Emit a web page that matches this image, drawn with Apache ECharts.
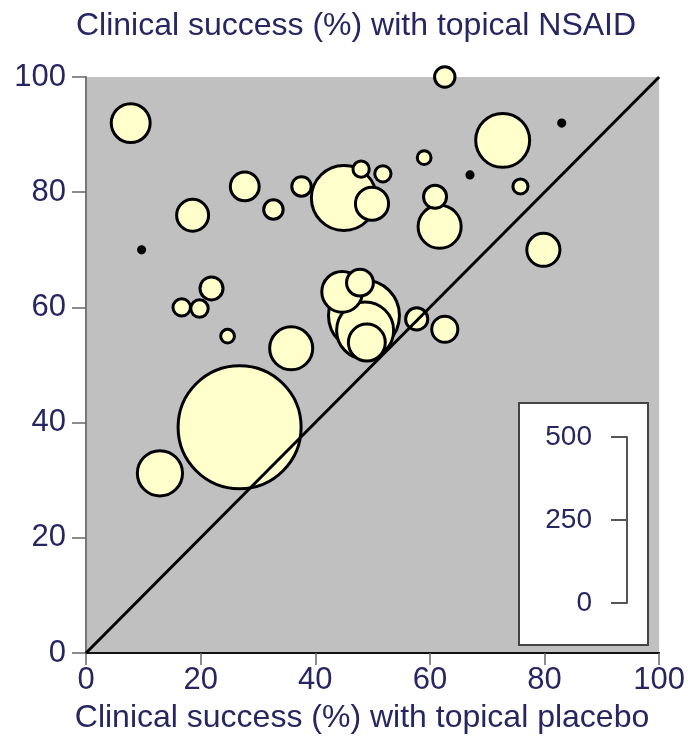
<!DOCTYPE html>
<html>
<head>
<meta charset="utf-8">
<script src="https://cdn.jsdelivr.net/npm/echarts@6/dist/echarts.min.js"></script>
<style>html,body{margin:0;padding:0;background:#fff;}#c{width:688px;height:740px;}</style>
</head>
<body>
<div id="c"></div>
<script>
// Clinical success (%) with topical placebo (x) and topical NSAID (y); trial size
const placebo = [7.8, 62.6, 72.7, 83, 9.7, 18.6, 27.7, 32.7, 37.6, 45, 48, 51.8, 49.9, 59, 67, 60.9, 61.7, 75.8, 79.8, 16.7, 19.8, 21.9, 24.7, 35.8, 44.7, 47.8, 48.5, 48.7, 49, 57.7, 62.6, 26.8, 12.9];
const nsaid   = [92, 100, 89, 92, 70, 76, 81, 77, 81, 79, 84, 83.2, 78, 86, 83, 79.2, 74, 81, 70, 60, 59.8, 63.3, 55, 52.9, 62.7, 64.3, 58.6, 56, 53.9, 58, 56.2, 39.2, 31.2];
const trialSize = [40, 11, 77, 1, 1, 27, 22, 10, 10, 112, 7, 7, 29, 5, 1, 14, 49, 6, 29, 8, 8, 14, 5, 49, 44, 19, 133, 86, 36, 13, 18, 400, 54];
const axisTicks = [0, 20, 40, 60, 80, 100];
const sizeScaleTicks = [0, 250, 500];
const titleTop = 'Clinical success (%) with topical NSAID';
const titleBottom = 'Clinical success (%) with topical placebo';

const NAVY = '#262660';
const FONT = '"Liberation Sans", Arial, sans-serif';

const pts = placebo.map((x, i) => [x, nsaid[i], trialSize[i]]);
pts.sort((a, b) => b[2] - a[2]);

const chart = echarts.init(document.getElementById('c'));
chart.setOption({
  animation: false,
  grid: [
    { left: 86, right: 27, top: 77, bottom: 87, show: true, backgroundColor: '#c0c0c0', borderWidth: 0 },
    { left: 627, top: 437, height: 166, width: 10, show: false }
  ],
  xAxis: [
    { type: 'value', gridIndex: 0, min: axisTicks[0], max: axisTicks[axisTicks.length - 1], interval: 20,
      axisLine: { show: true, onZero: false, lineStyle: { color: '#111', width: 2 } },
      axisTick: { show: true, length: 12, lineStyle: { color: '#666', width: 1.5 } },
      axisLabel: { fontSize: 31, color: NAVY, fontFamily: FONT, margin: 12 },
      splitLine: { show: false } },
    { type: 'value', gridIndex: 1, show: false, min: 0, max: 1 }
  ],
  yAxis: [
    { type: 'value', gridIndex: 0, min: axisTicks[0], max: axisTicks[axisTicks.length - 1], interval: 20,
      axisLine: { show: true, onZero: false, lineStyle: { color: '#777', width: 2 } },
      axisTick: { show: true, length: 14, lineStyle: { color: '#666', width: 1.5 } },
      axisLabel: { fontSize: 31, color: NAVY, fontFamily: FONT, margin: 20 },
      splitLine: { show: false } },
    { type: 'value', gridIndex: 1, position: 'left', min: sizeScaleTicks[0], max: sizeScaleTicks[2], interval: 250, z: 10,
      axisLine: { show: true, onZero: false, lineStyle: { color: '#555', width: 2 } },
      axisTick: { show: true, length: 16, lineStyle: { color: '#555', width: 2 } },
      axisLabel: { fontSize: 28, color: NAVY, fontFamily: FONT, margin: 35 },
      splitLine: { show: false } }
  ],
  graphic: [
    { type: 'rect', z: 5, shape: { x: 519, y: 403, width: 129, height: 242 },
      style: { fill: '#fff', stroke: '#444', lineWidth: 2 } },
    { type: 'text', z: 5, x: 356, y: 26,
      style: { text: titleTop, fill: NAVY, font: '32px ' + FONT, align: 'center', verticalAlign: 'middle' } },
    { type: 'text', z: 5, x: 362, y: 718,
      style: { text: titleBottom, fill: NAVY, font: '32px ' + FONT, align: 'center', verticalAlign: 'middle' } }
  ],
  series: [
    { type: 'scatter', xAxisIndex: 0, yAxisIndex: 0, clip: false, z: 2,
      data: pts,
      symbolSize: v => Math.sqrt(v[2]) * 6.15,
      itemStyle: {
        color: p => (p.value[2] <= 1 ? '#000' : '#ffffcc'),
        borderColor: '#000', borderWidth: 3, opacity: 1
      } },
    { type: 'line', xAxisIndex: 0, yAxisIndex: 0, z: 3, symbol: 'none', silent: true,
      data: [[axisTicks[0], axisTicks[0]], [axisTicks[5], axisTicks[5]]],
      lineStyle: { color: '#000', width: 3 } }
  ]
});
</script>
</body>
</html>
